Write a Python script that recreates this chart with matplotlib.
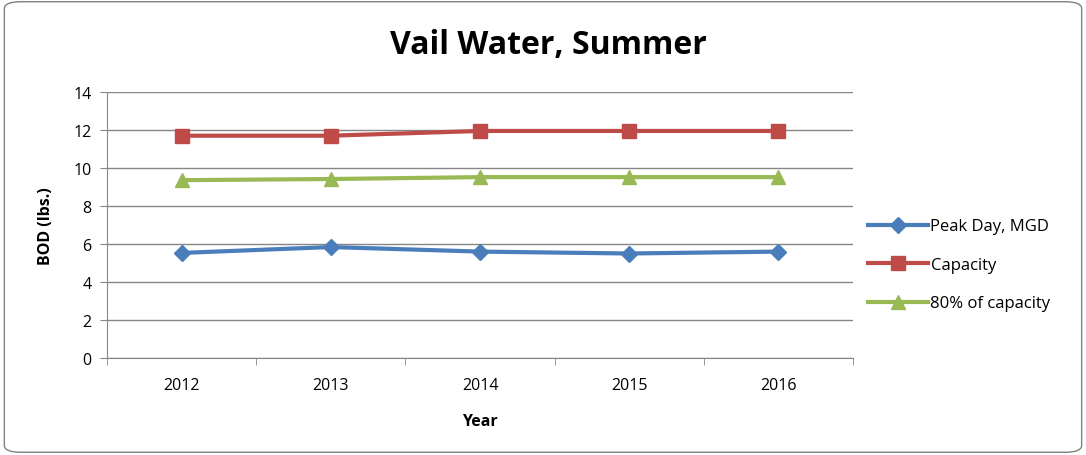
import matplotlib
matplotlib.use('Agg')
import matplotlib.pyplot as plt
from matplotlib.patches import FancyBboxPatch

years = ['2012', '2013', '2014', '2015', '2016']
peak_day = [5.53, 5.84, 5.6, 5.5, 5.6]
capacity = [11.7, 11.7, 11.95, 11.95, 11.95]
capacity_80 = [9.36, 9.42, 9.52, 9.52, 9.52]

plt.rcParams['font.family'] = ['Open Sans', 'DejaVu Sans']

fig = plt.figure(figsize=(10.86, 4.56), dpi=100)
border = FancyBboxPatch((0.004, 0.006), 0.992, 0.988, boxstyle='round,pad=0,rounding_size=0.015',
                        transform=fig.transFigure, fill=False, edgecolor='#808080', linewidth=1.0)
fig.patches.append(border)

ax = fig.add_axes([107 / 1086, 1 - 359 / 456, (853 - 107) / 1086, (359 - 93) / 456])
x = list(range(len(years)))
ax.plot(x, peak_day, color='#4a7ebb', linewidth=3, marker='D', markersize=8, label='Peak Day, MGD')
ax.plot(x, capacity, color='#be4b48', linewidth=3, marker='s', markersize=10, label='Capacity')
ax.plot(x, capacity_80, color='#98b954', linewidth=3, marker='^', markersize=10, label='80% of capacity')

ax.set_xlim(-0.5, len(years) - 0.5)
ax.set_ylim(0, 14)
ax.set_yticks(range(0, 15, 2))
ax.set_xticks(x)
ax.set_xticklabels(years)
ax.set_xticks([i - 0.5 for i in range(len(years) + 1)], minor=True)
ax.tick_params(axis='x', which='major', length=0, labelsize=11.5, pad=14)
ax.tick_params(axis='x', which='minor', length=5, color='#868686')
ax.tick_params(axis='y', length=5, color='#868686', labelsize=11.5, pad=6)
ax.grid(axis='y', color='#868686', linewidth=1)
ax.set_axisbelow(True)
for s in ['top', 'right']:
    ax.spines[s].set_visible(False)
for s in ['left', 'bottom']:
    ax.spines[s].set_color('#868686')

ax.set_xlabel('Year', fontsize=11.5, fontweight='bold', labelpad=14)
ax.set_ylabel('BOD (lbs.)', fontsize=11.5, fontweight='bold', labelpad=14)
fig.text(548 / 1086, 1 - 45 / 456, 'Vail Water, Summer', ha='center', va='center',
         fontsize=23, fontweight='bold')

ax.legend(loc='center left', bbox_to_anchor=(1.0, 0.35), frameon=False, fontsize=12,
          handlelength=3.6, labelspacing=1.35, handletextpad=0.15)

fig.savefig('out.png', dpi=100)
